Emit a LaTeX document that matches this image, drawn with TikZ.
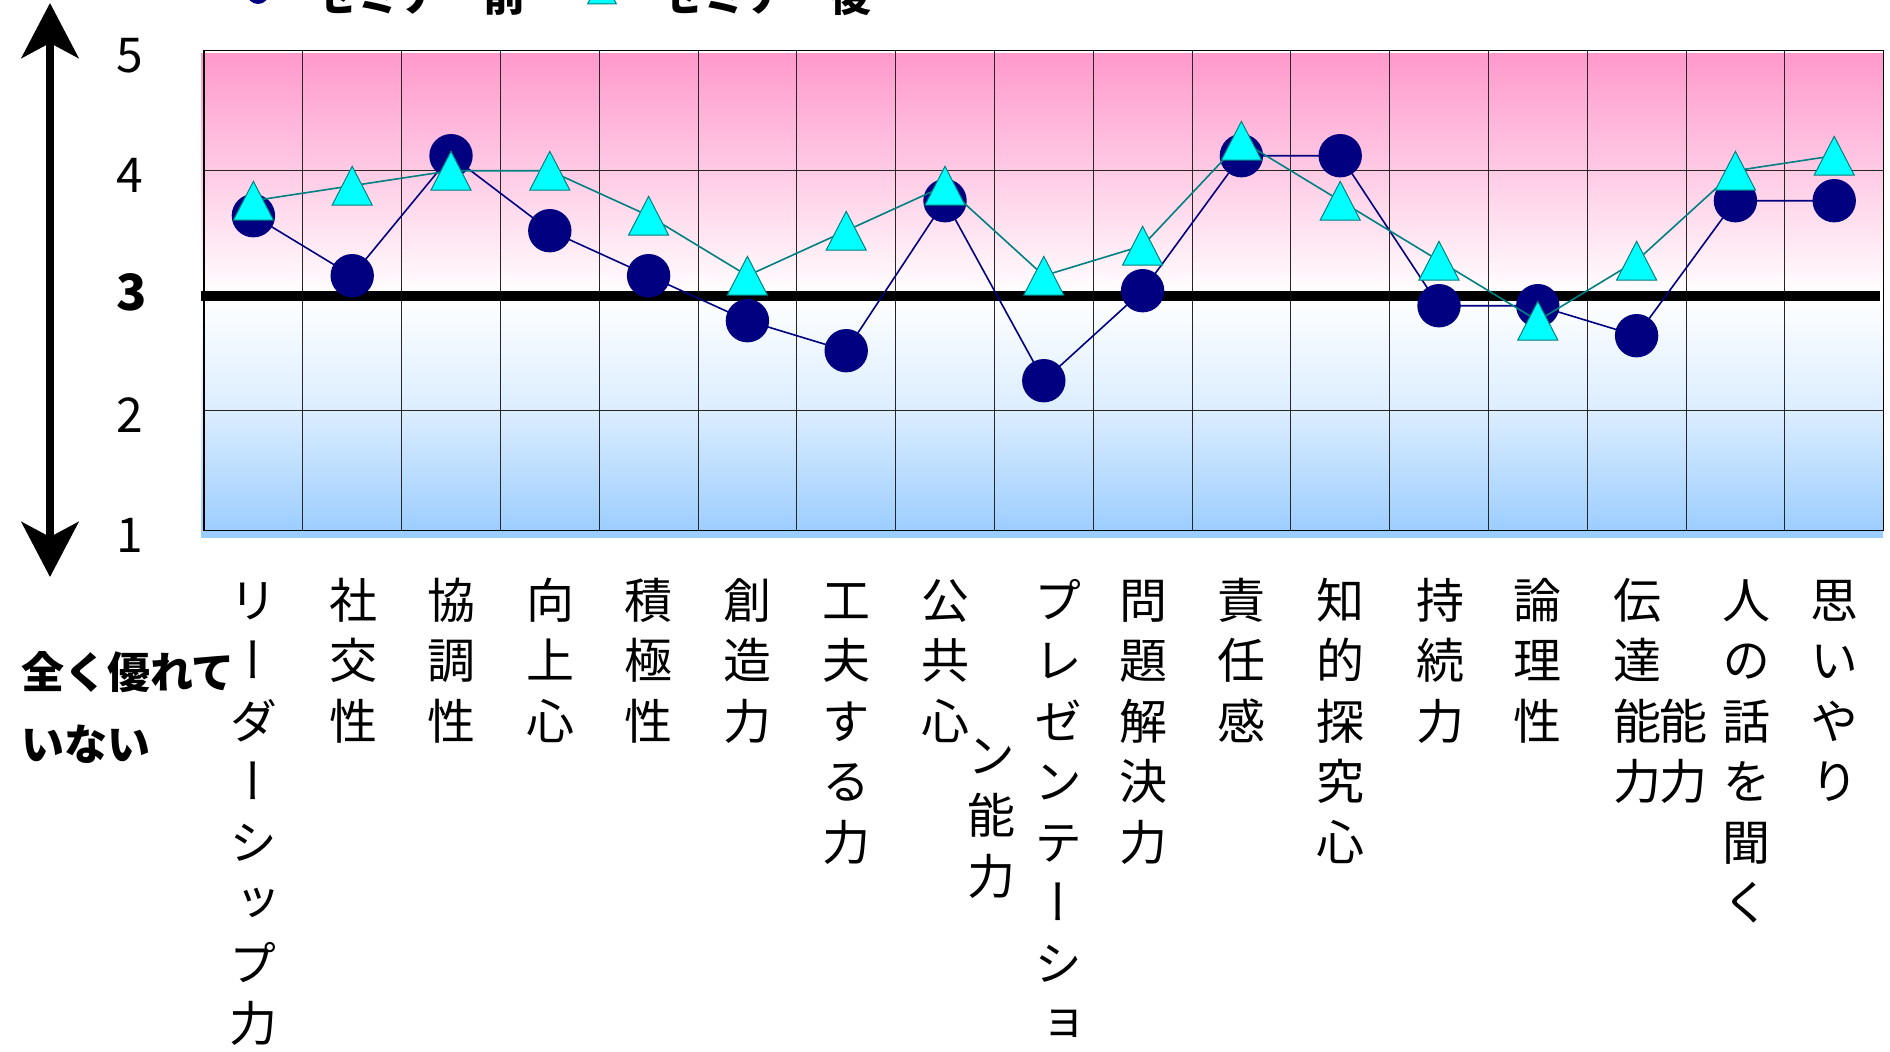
\documentclass[tikz,border=0pt]{standalone}
\usepackage{fontspec}
\usetikzlibrary{arrows.meta}
\newfontfamily\jpfont{Noto Sans CJK JP}
\newfontfamily\jpvert[RawFeature=+vert]{Noto Sans CJK JP}
\definecolor{navyc}{RGB}{0,0,128}
\definecolor{tealc}{RGB}{0,128,128}
\definecolor{cyanc}{RGB}{0,255,255}
\definecolor{pinkc}{RGB}{255,153,204}
\definecolor{bluec}{RGB}{153,204,255}

\tikzset{
  catlbl/.style={font=\jpvert\fontsize{48}{48}\selectfont, inner sep=0pt,
    text height=42.2pt, text depth=5.8pt},
  numlbl/.style={font=\jpfont\fontsize{48}{48}\selectfont, inner sep=0pt, anchor=base},
  notlbl/.style={font=\jpfont\bfseries\fontsize{43}{43}\selectfont, inner sep=0pt,
    anchor=west, text height=37.8pt, text depth=5.2pt},
  lgdlbl/.style={font=\jpfont\bfseries\fontsize{42}{42}\selectfont, inner sep=0pt,
    text height=37pt, text depth=5pt},
  dotmark/.style={circle, fill=navyc, inner sep=0pt, minimum size=43.4pt},
  gridline/.style={black!85, line width=1pt},
  beforeline/.style={navyc, line width=1.6pt},
  afterline/.style={tealc, line width=1.6pt},
  trimark/.pic={\draw[fill=cyanc, draw=tealc, line width=1pt]
    (0,-19.35) -- (20,19.35) -- (-20,19.35) -- cycle;},
  bigtip/.tip={Stealth[length=55pt, width=57pt, inset=15pt]}
}

\begin{document}
\begin{tikzpicture}[x=1pt, y=-1pt]
  \useasboundingbox (0,0) rectangle (1890,1052);

  % plot area
  \shade[top color=pinkc, bottom color=white] (201,53) rectangle (1883,296);
  \shade[top color=white, bottom color=bluec!35] (201,296) rectangle (1883,411);
  \shade[top color=bluec!35, bottom color=bluec] (201,411) rectangle (1883,537);
  \foreach \k in {1,...,16}
    \draw[gridline] ({204+98.8*\k},50.5) -- ({204+98.8*\k},530.7);
  \draw[gridline] (204,170.7) -- (1883.6,170.7) (204,410.7) -- (1883.6,410.7);
  \draw[black, line width=1.3pt] (204,50.5) rectangle (1883.6,530.7);
  \draw[line width=10pt] (201,296) -- (1880,296);

  % data
  \foreach \v [count=\i] in {3.625,3.125,4.125,3.5,3.125,2.75,2.5,3.75,2.25,3,
      4.125,4.125,2.875,2.875,2.625,3.75,3.75}
    \coordinate (b\i) at ({154.6+98.8*\i},{650.7-120*\v});
  \foreach \v [count=\i] in {3.75,3.875,4,4,3.625,3.125,3.5,3.875,3.125,3.375,
      4.25,3.75,3.25,2.75,3.25,4,4.125}
    \coordinate (a\i) at ({154.6+98.8*\i},{650.7-120*\v});

  \draw[beforeline] (b1) \foreach \i in {2,...,17} {-- (b\i)};
  \foreach \i in {1,...,17} \node[dotmark] (bm\i) at (b\i) {};
  \draw[afterline] (a1) \foreach \i in {2,...,17} {-- (a\i)};
  \foreach \i in {1,...,17} \pic at (a\i) {trimark};

  % axis arrow and numbers
  \coordinate (axtop) at (50,3);
  \coordinate (axbot) at (50,577);
  \draw[line width=8pt, bigtip-bigtip] (axbot) -- (axtop);
  \foreach \v in {1,2,4,5}
    \node[numlbl] (num\v) at (130,{672.7-120*\v}) {\v};
  \node[numlbl, font=\jpfont\bfseries\fontsize{50}{50}\selectfont] (num3) at (132,310) {3};

  \node[notlbl] (notgood1) at (21,672) {全く優れて};
  \node[notlbl] (notgood2) at (21,744) {いない};

  % legend
  \node[dotmark, minimum size=22pt] (lgbefore) at (258,-7) {};
  \node[lgdlbl] (lgbeforetxt) at (420,-5) {セミナー前};
  \pic[scale=0.72] at (602,-10) {trimark};
  \node[lgdlbl] (lgaftertxt) at (766,-5) {セミナー後};

  % category labels, one character per row
  \foreach \x/\y/\txt [count=\n] in {253/600/{リ,ー,ダ,ー,シ,ッ,プ,力},
      353/600/{社,交,性}, 451.5/600/{協,調,性}, 550/600/{向,上,心},
      648.5/600/{積,極,性}, 747/600/{創,造,力}, 846.5/600/{工,夫,す,る,力},
      945/600/{公,共,心}, 991/755/{ン,能,力},
      1058/600/{プ,レ,ゼ,ン,テ,ー,シ,ョ}, 1143/600/{問,題,解,決,力},
      1241/600/{責,任,感}, 1340/600/{知,的,探,究,心}, 1440/600/{持,続,力},
      1537/600/{論,理,性}, 1637/600/{伝,達,能,力}, 1683/721/{能,力},
      1746/600/{人,の,話,を,聞,く}, 1834/600/{思,い,や,り}}
    \foreach \c [count=\k] in \txt
      \node[catlbl] (cat\n-\k) at (\x,{\y+60.5*(\k-1)}) {\c};
\end{tikzpicture}
\end{document}
